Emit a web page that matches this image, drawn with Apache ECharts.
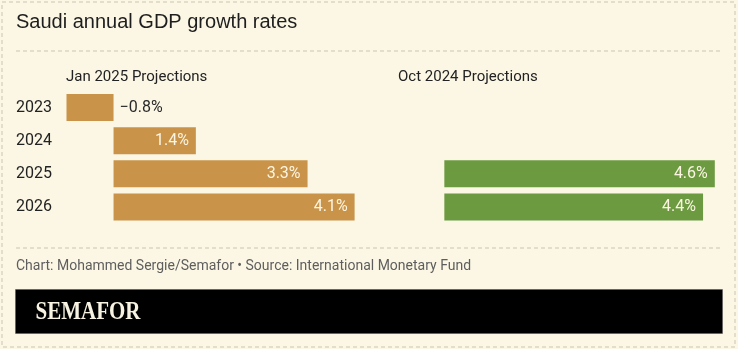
<!DOCTYPE html>
<html><head><meta charset="utf-8">
<script src="https://cdn.jsdelivr.net/npm/echarts@6/dist/echarts.min.js"></script>
<style>html,body{margin:0;padding:0;background:#fbf7e4;}#c{width:738px;height:349px;}</style>
</head><body><div id="c"></div>
<script>
const years = ['2023', '2024', '2025', '2026'];
const jan2025 = [-0.8, 1.4, 3.3, 4.1];
const oct2024 = [null, null, 4.6, 4.4];
const panelTitles = ['Jan 2025 Projections', 'Oct 2024 Projections'];
const titleText = 'Saudi annual GDP growth rates';
const footerText = 'Chart: Mohammed Sergie/Semafor \u2022 Source: International Monetary Fund';

const GOLD = '#c99449', GREEN = '#6b9a40';
const FONT = 'Roboto, "Noto Sans", sans-serif';
const fmt = v => (v < 0 ? '\u2212' + Math.abs(v).toFixed(1) : v.toFixed(1)) + '%';
function items(arr, color) {
  return arr.map(v => {
    if (v === null) return '-';
    const neg = v < 0;
    return {
      value: v,
      itemStyle: { color: color },
      label: neg ? { position: 'right', distance: 6, color: '#2a2a2a' }
                 : { position: 'insideRight', distance: 7, color: '#fbf5e2' }
    };
  });
}
const chart = echarts.init(document.getElementById('c'), null, { renderer: 'canvas' });
const gridTop = 91, gridH = 132.5, gridW = 317.5;
chart.setOption({
  backgroundColor: '#fbf7e4',
  animation: false,
  title: [
    { text: titleText, left: 16, top: 12, padding: 0, textStyle: { fontFamily: '"Liberation Sans", Arial, sans-serif', fontSize: 20, fontWeight: 'normal', color: '#1e1e1e' } },
    { text: panelTitles[0], left: 66, top: 70, padding: 0, textStyle: { fontFamily: FONT, fontSize: 15, fontWeight: 'normal', color: '#222' } },
    { text: panelTitles[1], left: 398, top: 70, padding: 0, textStyle: { fontFamily: FONT, fontSize: 15, fontWeight: 'normal', color: '#222' } }
  ],
  grid: [
    { left: 66.5, top: gridTop, width: gridW, height: gridH },
    { left: 397.3, top: gridTop, width: gridW, height: gridH }
  ],
  xAxis: [0, 1].map(i => ({ type: 'value', gridIndex: i, min: -0.8, max: 4.6, show: false })),
  yAxis: [0, 1].map(i => ({
    type: 'category', gridIndex: i, data: years, inverse: true,
    axisLine: { show: false }, axisTick: { show: false }, splitLine: { show: false },
    axisLabel: { show: i === 0, align: 'left', margin: 50.5, fontFamily: FONT, fontSize: 16, color: '#222' }
  })),
  series: [
    { type: 'bar', xAxisIndex: 0, yAxisIndex: 0, data: items(jan2025, GOLD), barWidth: 27,
      label: { show: true, formatter: p => fmt(p.value), fontFamily: FONT, fontSize: 16 } },
    { type: 'bar', xAxisIndex: 1, yAxisIndex: 1, data: items(oct2024, GREEN), barWidth: 27,
      label: { show: true, formatter: p => fmt(p.value), fontFamily: FONT, fontSize: 16 } }
  ],
  graphic: [
    { type: 'rect', shape: { x: 2, y: 2, width: 733, height: 345 }, style: { fill: 'none', stroke: '#c9c5b2', lineWidth: 1, lineDash: [4, 3] }, silent: true },
    { type: 'line', shape: { x1: 16, y1: 51, x2: 722, y2: 51 }, style: { stroke: '#c9c5b2', lineWidth: 1, lineDash: [4, 3] } },
    { type: 'line', shape: { x1: 16, y1: 248, x2: 722, y2: 248 }, style: { stroke: '#c9c5b2', lineWidth: 1, lineDash: [4, 3] } },
    { type: 'text', left: 16, top: 259, style: { text: footerText, fontFamily: FONT, fontSize: 14, fill: '#5e5e5e' } },
    { type: 'rect', shape: { x: 15.5, y: 289.5, width: 707, height: 44 }, style: { fill: '#000', stroke: '#555', lineWidth: 0.5 } },
    { type: 'text', x: 35.5, y: 301, scaleY: 1.15, style: { text: 'SEMAFOR', fontFamily: '"Liberation Serif", "DejaVu Serif", serif', fontWeight: 'bold', fontSize: 21, fill: '#f7f2e2' } }
  ]
});
</script></body></html>
